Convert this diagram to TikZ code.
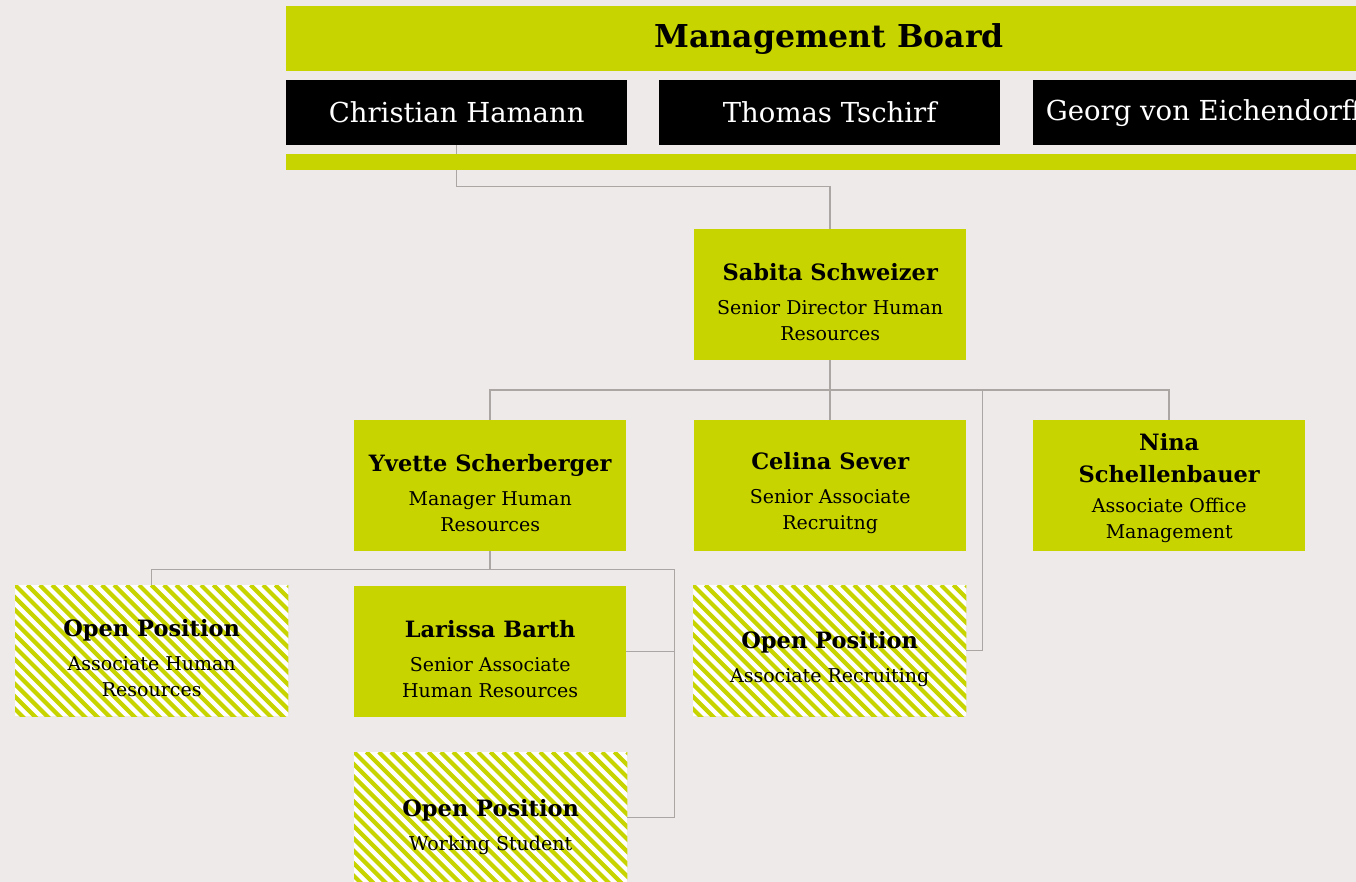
\documentclass[tikz,border=0pt]{standalone}
\usepackage{fontspec}
\setmainfont{DejaVu Serif}
\usetikzlibrary{calc}
\definecolor{lime}{HTML}{C8D400}
\definecolor{bgc}{HTML}{EEEAE9}
\definecolor{connc}{HTML}{ABA6A3}
\newcommand{\nmf}{\bfseries\fontsize{22.5}{32}\selectfont}
\newcommand{\tif}{\fontsize{19}{26}\selectfont}
\newcommand{\stripebox}[1]{%
  \begin{scope}
    \clip (#1.north west) rectangle (#1.south east);
    \foreach \k in {-12,...,24} \draw[stripe] ($(#1.north west)+(\k*12.4,0)$) -- ++(140,140);
  \end{scope}}
\begin{document}
\begin{tikzpicture}[x=1pt,y=-1pt,
  box/.style={fill=lime, draw=none, minimum width=272pt, minimum height=131pt, inner sep=0pt, anchor=north west},
  openbox/.style={fill=white, draw=none, minimum width=273pt, minimum height=131pt, inner sep=0pt, anchor=north west},
  stripe/.style={draw=lime, line width=4.2pt},
  txt/.style={align=center, inner sep=0pt, text=black, font=\tif},
  blackbox/.style={fill=black, text=white, minimum width=341pt, minimum height=65pt, inner sep=0pt, anchor=north west, font=\fontsize{27.5}{32}\selectfont},
  conn/.style={draw=connc, line width=1.5pt}
]
\useasboundingbox (0,0) rectangle (1356,882);
\fill[bgc] (0,0) rectangle (1356,882);
\clip (0,0) rectangle (1356,882);

% boxes
\node[box] (sabita) at (694,229) {};
\node[box] (yvette) at (354,420) {};
\node[box] (celina) at (694,420) {};
\node[box] (nina) at (1033,420) {};
\node[box] (larissa) at (354,586) {};
\node[openbox] (openahr) at (15,585) {};
\node[openbox] (openar) at (693,585) {};
\node[openbox] (openws) at (354,752) {};
\stripebox{openahr}
\stripebox{openar}
\stripebox{openws}

% connectors
\node[blackbox] (christian) at (286,80) {Christian Hamann};
\node[blackbox] (thomas) at (659,80) {Thomas Tschirf};
\node[blackbox] (georg) at (1033,80) {Georg von Eichendorff};
\draw[conn] (christian.south) -- ++(0,41) -| (sabita.north);
\draw[conn] (sabita.south) -- (celina.north);
\draw[conn] (yvette.north) -- ++(0,-30) -| (nina.north);
\coordinate (j2) at ($(celina.north east)+(16,-30)$);
\draw[conn] (j2) |- (openar.east);
\coordinate (j3) at ($(yvette.south)+(0,18)$);
\coordinate (j4) at ($(larissa.east)+(48,0)$);
\draw[conn] (yvette.south) -- (j3) -| (openahr.north);
\draw[conn] (j3) -| (j4 |- openws.east) -- (openws.east);
\draw[conn] (larissa.east) -- (j4);

% management bars
\node[fill=lime, minimum width=1086pt, minimum height=65pt, inner sep=0pt, anchor=north west,
  font=\bfseries\fontsize{31.5}{36}\selectfont] (mb) at (286,6) {Management Board};
\node[fill=lime, minimum width=1086pt, minimum height=16pt, inner sep=0pt, anchor=north west] (mbbar) at (286,154) {};

% texts
\node[txt] (sabita-t) at ($(sabita.center)+(0,7)$) {{\nmf Sabita Schweizer}\\[8pt]Senior Director Human\\Resources};
\node[txt] (yvette-t) at ($(yvette.center)+(0,7)$) {{\nmf Yvette Scherberger}\\[8pt]Manager Human\\Resources};
\node[txt] (celina-t) at ($(celina.center)+(0,7)$) {{\nmf Celina Sever}\\[8pt]Senior Associate\\Recruitng};
\node[txt] (nina-t) at ($(nina.center)+(0,2)$) {{\nmf Nina}\\[6pt]{\nmf Schellenbauer}\\[4pt]Associate Office\\Management};
\node[txt] (larissa-t) at ($(larissa.center)+(0,7)$) {{\nmf Larissa Barth}\\[8pt]Senior Associate\\Human Resources};
\node[txt] (openahr-t) at ($(openahr.center)+(0,7)$) {{\nmf Open Position}\\[8pt]Associate Human\\Resources};
\node[txt] (openar-t) at ($(openar.center)+(0,8)$) {{\nmf Open Position}\\[8pt]Associate Recruiting};
\node[txt] (openws-t) at ($(openws.center)+(0,9)$) {{\nmf Open Position}\\[8pt]Working Student};
\end{tikzpicture}
\end{document}
